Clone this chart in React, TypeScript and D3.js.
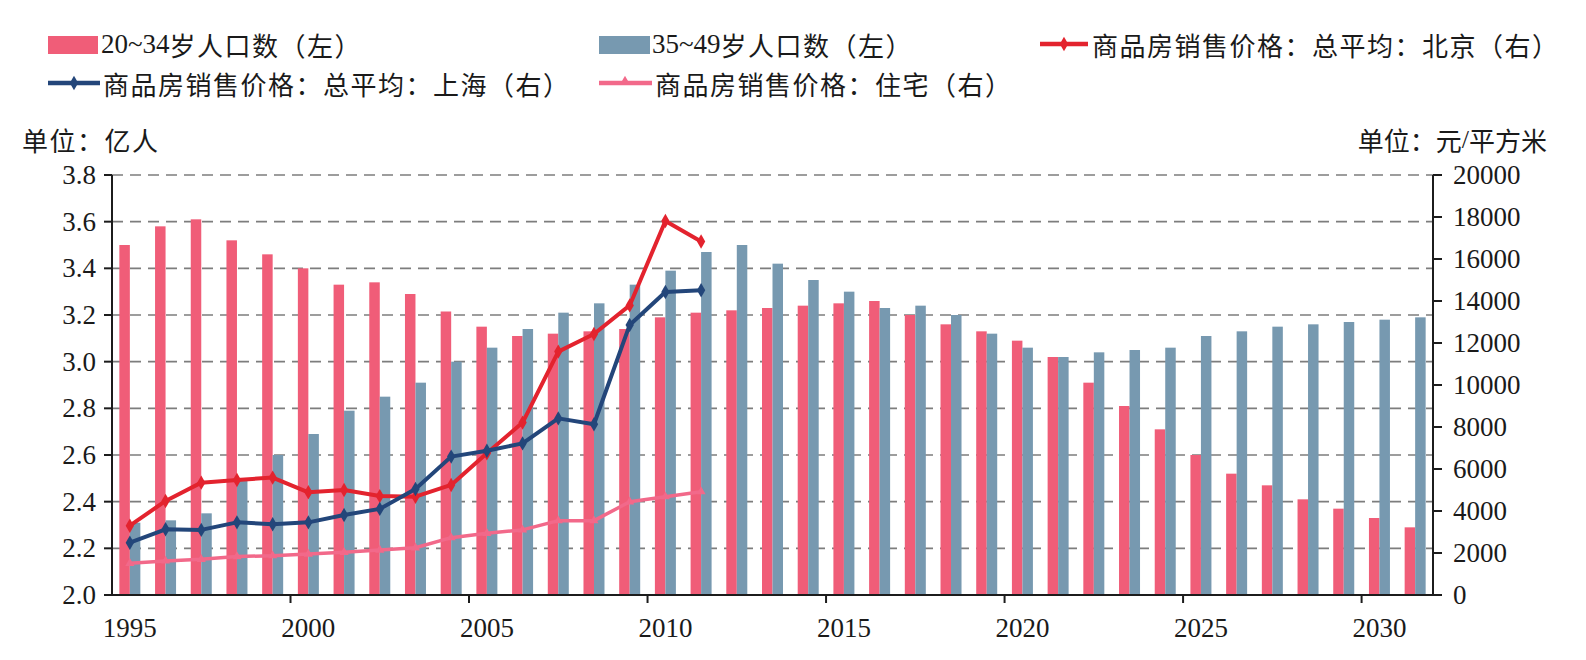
import * as d3 from "d3";

const years = d3.range(1995, 2032);
const priceYears = d3.range(1995, 2012);

// 20~34岁人口数 (亿人, left axis)
const pop2034 = [
    3.5, 3.58, 3.61, 3.52, 3.46, 3.4, 3.33, 3.34, 3.29, 3.215, 3.15, 3.11, 3.12, 3.13, 3.14, 3.19, 3.21, 3.22, 3.23,
    3.24, 3.25, 3.26, 3.2, 3.16, 3.13, 3.09, 3.02, 2.91, 2.81, 2.71, 2.6, 2.52, 2.47, 2.41, 2.37, 2.33, 2.29,
];
// 35~49岁人口数 (亿人, left axis)
const pop3549 = [
    2.31, 2.32, 2.35, 2.49, 2.6, 2.69, 2.79, 2.85, 2.91, 3.0, 3.06, 3.14, 3.21, 3.25, 3.33, 3.39, 3.47, 3.5, 3.42,
    3.35, 3.3, 3.23, 3.24, 3.2, 3.12, 3.06, 3.02, 3.04, 3.05, 3.06, 3.11, 3.13, 3.15, 3.16, 3.17, 3.18, 3.19,
];
// 商品房销售价格 (元/平方米, right axis)
const priceBeijing = [3300, 4480, 5350, 5480, 5590, 4890, 5000, 4710, 4680, 5240, 6750, 8210, 11590, 12430, 13790, 17810, 16830];
const priceShanghai = [2490, 3130, 3100, 3460, 3370, 3460, 3810, 4100, 5050, 6590, 6870, 7220, 8410, 8130, 12860, 14430, 14510];
const priceHousing = [1510, 1620, 1700, 1830, 1870, 1950, 2030, 2140, 2250, 2730, 2940, 3100, 3540, 3540, 4440, 4680, 4920];

const leftTicks = [2.0, 2.2, 2.4, 2.6, 2.8, 3.0, 3.2, 3.4, 3.6, 3.8];
const rightTicks = d3.range(0, 20001, 2000);
const xLabelYears = [1995, 2000, 2005, 2010, 2015, 2020, 2025, 2030];

const C = {
    pinkBar: "#f05d78",
    blueBar: "#7799b0",
    red: "#e3232e",
    navy: "#23467a",
    pinkLine: "#f2698a",
    grid: "#7d7d7d",
    axis: "#1c1c1c",
    text: "#1a1a1a",
};

const SERIF = "'Liberation Serif', 'Times New Roman', serif";
const CJK = "'Noto Sans CJK SC', sans-serif";

const W = 1586;
const H = 660;
const plot = { left: 112, right: 1433, top: 175, bottom: 595 };

export default function App() {
    const x = d3.scaleBand<number>().domain(years).range([plot.left, plot.right]).paddingInner(0).paddingOuter(0);
    const xSub = d3.scaleBand<string>().domain(["a", "b"]).range([0, x.bandwidth()]).paddingInner(0).paddingOuter(0.7);
    const yL = d3.scaleLinear().domain([2.0, 3.8]).range([plot.bottom, plot.top]);
    const yR = d3.scaleLinear().domain([0, 20000]).range([plot.bottom, plot.top]);
    const cx = (yr: number) => (x(yr) ?? 0) + x.bandwidth() / 2;

    const line = d3
        .line<number>()
        .x((_, i) => cx(priceYears[i]))
        .y((d) => yR(d));

    const diamond = d3.symbol(d3.symbolDiamond, 60)() ?? "";
    const triangle = d3.symbol(d3.symbolTriangle, 36)() ?? "";

    const priceSeries = [
        { values: priceBeijing, color: C.red, marker: diamond, width: 4 },
        { values: priceShanghai, color: C.navy, marker: diamond, width: 4 },
        { values: priceHousing, color: C.pinkLine, marker: triangle, width: 3.5 },
    ];

    return (
        <svg width={W} height={H} style={{ position: "absolute", left: 0, top: 0, background: "#fff" }}>
            {/* legend */}
            <g fontFamily={CJK} fontSize={26} fill={C.text} letterSpacing={1.5}>
                <rect x={48} y={36} width={50} height={18} fill={C.pinkBar} />
                <text x={101} y={44} dominantBaseline="central">
                    <tspan fontFamily={SERIF} fontSize={27} letterSpacing={0}>20~34</tspan>岁人口数（左）
                </text>
                <rect x={599} y={36} width={51} height={18} fill={C.blueBar} />
                <text x={652} y={44} dominantBaseline="central">
                    <tspan fontFamily={SERIF} fontSize={27} letterSpacing={0}>35~49</tspan>岁人口数（左）
                </text>
                <line x1={1040} x2={1088} y1={44} y2={44} stroke={C.red} strokeWidth={4.5} />
                <path d={diamond} transform="translate(1064,44)" fill={C.red} />
                <text x={1092} y={44} dominantBaseline="central">商品房销售价格：总平均：北京（右）</text>
                <line x1={48} x2={100} y1={83} y2={83} stroke={C.navy} strokeWidth={4.5} />
                <path d={diamond} transform="translate(74,83)" fill={C.navy} />
                <text x={103} y={83} dominantBaseline="central">商品房销售价格：总平均：上海（右）</text>
                <line x1={599} x2={652} y1={83} y2={83} stroke={C.pinkLine} strokeWidth={4.5} />
                <path d={triangle} transform="translate(625,81)" fill={C.pinkLine} />
                <text x={655} y={83} dominantBaseline="central">商品房销售价格：住宅（右）</text>
                <text x={22} y={139} dominantBaseline="central">单位：亿人</text>
                <text x={1547} y={139} dominantBaseline="central" textAnchor="end" letterSpacing={0}>
                    单位：元<tspan fontFamily={SERIF}>/</tspan>平方米
                </text>
            </g>

            {/* grid */}
            <g stroke={C.grid} strokeWidth={1.6} strokeDasharray="11 7">
                {leftTicks.slice(1).map((t) => (
                    <line key={t} x1={plot.left} x2={plot.right} y1={yL(t)} y2={yL(t)} />
                ))}
            </g>

            {/* bars */}
            <g>
                {years.map((yr, i) => (
                    <g key={yr} transform={`translate(${x(yr)},0)`}>
                        <rect
                            x={xSub("a")}
                            y={yL(pop2034[i])}
                            width={xSub.bandwidth()}
                            height={plot.bottom - yL(pop2034[i])}
                            fill={C.pinkBar}
                        />
                        <rect
                            x={xSub("b")}
                            y={yL(pop3549[i])}
                            width={xSub.bandwidth()}
                            height={plot.bottom - yL(pop3549[i])}
                            fill={C.blueBar}
                        />
                    </g>
                ))}
            </g>

            {/* price lines */}
            {priceSeries.map((s, k) => (
                <g key={k}>
                    <path d={line(s.values) ?? ""} fill="none" stroke={s.color} strokeWidth={s.width} strokeLinejoin="round" />
                    {s.values.map((v, i) => (
                        <path key={i} d={s.marker} transform={`translate(${cx(priceYears[i])},${yR(v)})`} fill={s.color} />
                    ))}
                </g>
            ))}

            {/* axes */}
            <g stroke={C.axis} strokeWidth={2}>
                <line x1={plot.left} x2={plot.left} y1={plot.top} y2={plot.bottom} />
                <line x1={plot.right} x2={plot.right} y1={plot.top} y2={plot.bottom} />
                <line x1={plot.left - 8} x2={plot.right + 8} y1={plot.bottom} y2={plot.bottom} />
                {leftTicks.map((t) => (
                    <line key={t} x1={plot.left - 8} x2={plot.left} y1={yL(t)} y2={yL(t)} />
                ))}
                {rightTicks.map((t) => (
                    <line key={t} x1={plot.right} x2={plot.right + 9} y1={yR(t)} y2={yR(t)} />
                ))}
                {xLabelYears.slice(1).map((yr) => (
                    <line key={yr} x1={x(yr)} x2={x(yr)} y1={plot.bottom} y2={plot.bottom + 8} />
                ))}
            </g>

            <g fontFamily={SERIF} fontSize={27} fill={C.text}>
                {leftTicks.map((t) => (
                    <text key={t} x={plot.left - 16} y={yL(t) + 9} textAnchor="end">
                        {d3.format(".1f")(t)}
                    </text>
                ))}
                {rightTicks.map((t) => (
                    <text key={t} x={plot.right + 20} y={yR(t) + 9}>
                        {t}
                    </text>
                ))}
                {xLabelYears.map((yr) => (
                    <text key={yr} x={cx(yr)} y={637} textAnchor="middle">
                        {yr}
                    </text>
                ))}
            </g>
        </svg>
    );
}
